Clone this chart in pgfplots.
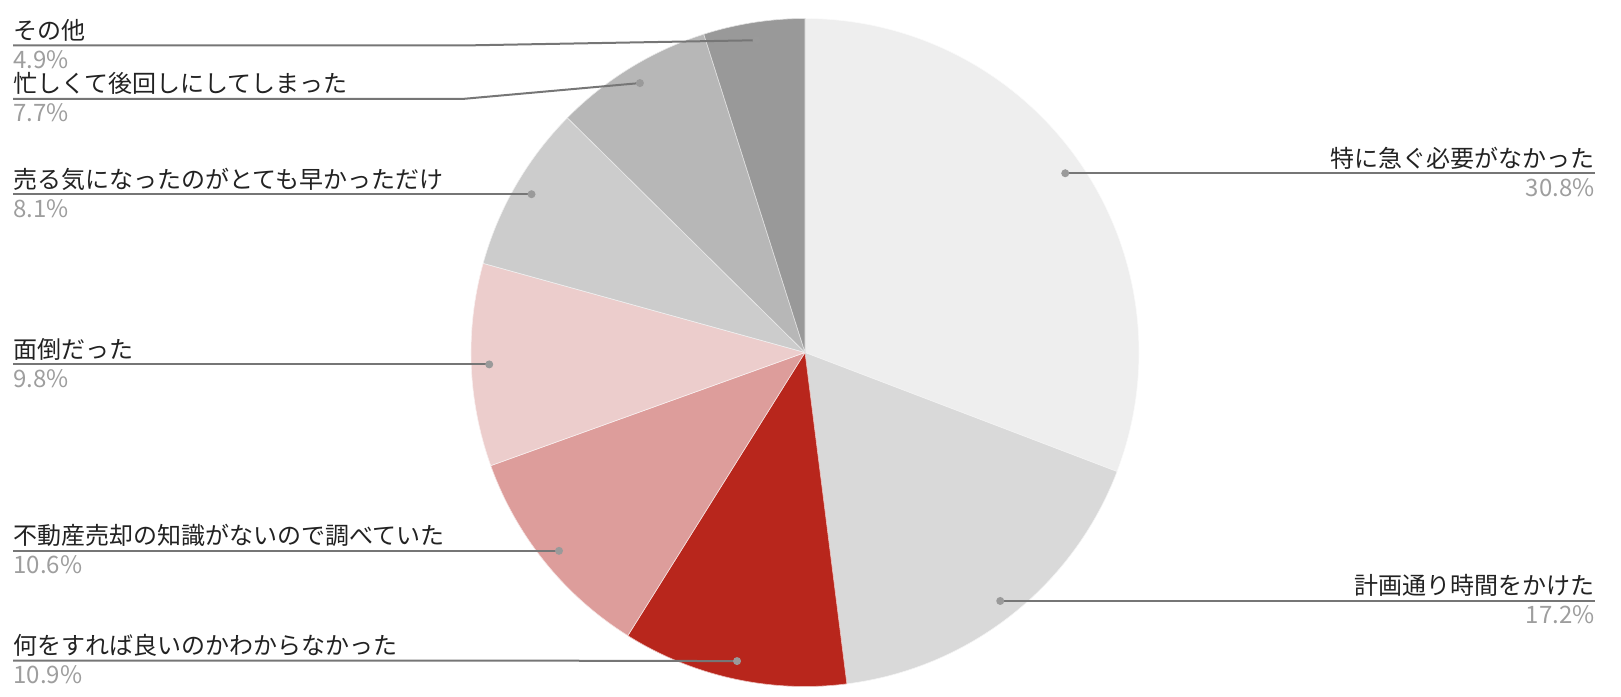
\documentclass[border=0pt]{standalone}
\usepackage{pgfplots}
\pgfplotsset{compat=1.18}
\usepackage{fontspec}
\setmainfont{Noto Sans CJK JP}
\definecolor{pc1}{HTML}{EEEEEE}
\definecolor{pc2}{HTML}{D9D9D9}
\definecolor{pc3}{HTML}{B8261C}
\definecolor{pc4}{HTML}{DD9D9B}
\definecolor{pc5}{HTML}{ECCDCC}
\definecolor{pc6}{HTML}{CCCCCC}
\definecolor{pc7}{HTML}{B7B7B7}
\definecolor{pc8}{HTML}{999999}
\definecolor{leadc}{HTML}{767676}
\definecolor{dotc}{HTML}{9A9A9A}
\definecolor{labc}{HTML}{222222}
\definecolor{pctc}{HTML}{9E9E9E}
\tikzset{lab/.style={font=\fontsize{12pt}{14pt}\selectfont, inner sep=0pt}}
% value / colour / label / side (1 right, 0 left) / leader y (-1: at dot) / bend x
\def\piedata{30.8/pc1/特に急ぐ必要がなかった/1/-1/0,
17.2/pc2/計画通り時間をかけた/1/-1/0,
10.9/pc3/何をすれば良いのかわからなかった/0/35.5/462,
10.6/pc4/不動産売却の知識がないので調べていた/0/-1/462,
9.8/pc5/面倒だった/0/-1/462,
8.1/pc6/売る気になったのがとても早かっただけ/0/-1/462,
7.7/pc7/忙しくて後回しにしてしまった/0/597/462,
4.9/pc8/その他/0/650.5/462}
\begin{document}
\begin{tikzpicture}
\begin{axis}[x=0.5pt,y=0.5pt,xmin=0,xmax=1621,ymin=0,ymax=696,
  hide axis,clip=false,scale only axis]
\path (axis cs:0,0) rectangle (axis cs:1621,696);
\gdef\cum{0}
\foreach \v/\c/\lab/\side/\ly/\bx in \piedata {
  \pgfmathsetmacro\aS{90-3.6*\cum}
  \pgfmathsetmacro\aE{90-3.6*(\cum+\v)}
  \pgfmathsetmacro\sx{805+334*cos(\aS)}
  \pgfmathsetmacro\sy{343.5+334*sin(\aS)}
  \pgfmathsetmacro\newcum{\cum+\v}
  \global\let\cum\newcum
  \edef\temp{\noexpand\fill[\c, draw=white!70!\c, line width=0.3pt] (axis cs:805,343.5) -- (axis cs:\sx,\sy) arc[start angle=\aS, end angle=\aE, radius=167pt] -- cycle;}
  \temp
}
\gdef\cum{0}
\foreach \v/\c/\lab/\side/\ly/\bx in \piedata {
  \pgfmathsetmacro\aM{90-3.6*(\cum+\v/2)}
  \pgfmathsetmacro\dx{805+316*cos(\aM)}
  \pgfmathsetmacro\dy{343.5+316*sin(\aM)}
  \pgfmathsetmacro\newcum{\cum+\v}
  \global\let\cum\newcum
  \pgfmathsetmacro\lyA{\ly<0 ? \dy : \ly}
  \pgfmathsetmacro\ty{\lyA+6}
  \pgfmathsetmacro\py{\lyA-23}
  \ifnum\side=1
    \edef\temp{\noexpand\draw[leadc, line width=1pt] (axis cs:\dx,\dy) -- (axis cs:1595,\lyA);
      \noexpand\node[lab, text=labc, anchor=base east] at (axis cs:1595,\ty) {\lab};
      \noexpand\node[lab, text=pctc, anchor=base east] at (axis cs:1595,\py) {\v\noexpand\%};}
  \else
    \edef\temp{\noexpand\draw[leadc, line width=1pt] (axis cs:\dx,\dy) -- (axis cs:\bx,\lyA) -- (axis cs:13,\lyA);
      \noexpand\node[lab, text=labc, anchor=base west] at (axis cs:13,\ty) {\lab};
      \noexpand\node[lab, text=pctc, anchor=base west] at (axis cs:13,\py) {\v\noexpand\%};}
  \fi
  \temp
  \edef\temp{\noexpand\fill[dotc] (axis cs:\dx,\dy) circle[radius=2pt];}
  \temp
}
\end{axis}
\end{tikzpicture}
\end{document}
